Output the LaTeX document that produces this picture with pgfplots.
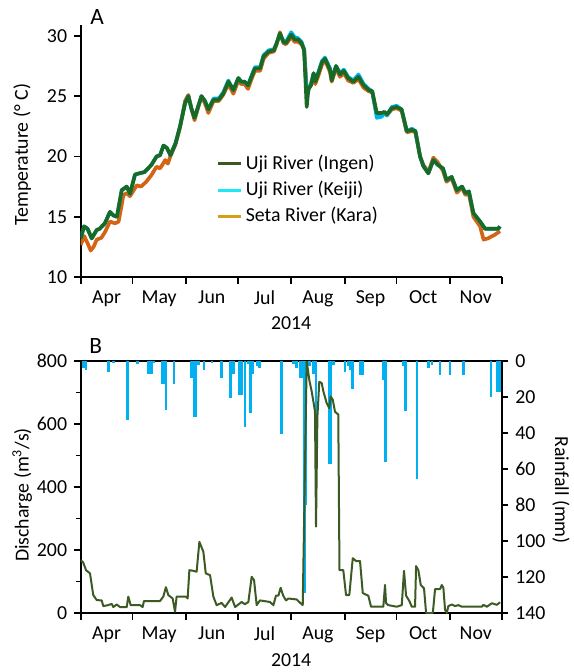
\documentclass[border=0pt]{standalone}
\usepackage{fontspec}
\setmainfont{Carlito}
\usepackage{pgfplots}
\pgfplotsset{compat=1.18}

\definecolor{ingen}{RGB}{24,106,36}
\definecolor{keiji}{RGB}{0,180,240}
\definecolor{kara}{RGB}{212,100,20}
\definecolor{ingenleg}{RGB}{58,88,35}
\definecolor{keijileg}{RGB}{30,232,245}
\definecolor{karaleg}{RGB}{212,160,23}
\definecolor{rain}{RGB}{0,176,240}
\definecolor{flow}{RGB}{60,90,35}

\begin{document}
\fontsize{11.9pt}{14pt}\selectfont
\begin{tikzpicture}
\useasboundingbox (0,0) rectangle (343.8pt,-403.2pt);
\pgfplotsset{
  common/.style={
    scale only axis, width=252.6pt, height=151.2pt,
    xmin=0, xmax=244,
    xtick={0,30,61,91,122,153,183,214,244},
    xticklabels={Apr,May,Jun,Jul,Aug,Sep,Oct,Nov},
    x tick label as interval,
    tick align=outside, major tick length=4pt, minor tick length=3pt,
    tick style={black, line width=1.1pt},
    axis line style={line width=1.1pt},
    /pgf/number format/assume math mode=true,
    tick label style={font=\fontsize{11.9pt}{14pt}\selectfont},
    label style={font=\fontsize{11.9pt}{14pt}\selectfont},
  }
}

% ---------------- panel A: temperature
\begin{axis}[common,
  at={(48.4pt,-166.2pt)}, anchor=south west,
  ymin=10, ymax=30.9, ytick={10,15,20,25,30},
  axis x line*=bottom, axis y line*=left,
  xlabel={2014},
  xlabel style={at={(axis description cs:0.5,-0.183)}, anchor=center},
  ylabel={Temperature (° C)},
  ylabel style={at={(axis description cs:-0.139,0.485)}, anchor=center},
  legend image code/.code={\draw[#1] (0pt,0pt) -- (9.4pt,0pt); \path (0pt,0pt) -- (13.8pt,0pt);},
  legend style={draw=none, fill=none, at={(0.31,0.345)}, anchor=west,
    row sep=1.2pt, font=\fontsize{11.9pt}{14pt}\selectfont},
  legend cell align=left,
]
\addlegendimage{ingenleg, line width=1.8pt}
\addlegendentry{Uji River (Ingen)}
\addlegendimage{keijileg, line width=1.8pt}
\addlegendentry{Uji River (Keiji)}
\addlegendimage{karaleg, line width=1.8pt}
\addlegendentry{Seta River (Kara)}

% Seta River (Kara)
\addplot[forget plot, kara, line width=2.2pt, line join=round] coordinates {
(0,12.65) (2,13.4) (4,12.8) (5.8,12.2) (7.5,12.5) (9.3,13.1) (12,13.25)
(14,13.7) (17,14.6) (20,14.45) (22,14.6) (24.8,16.8) (26.7,16.95) (28.6,16.7)
(32.5,17.6) (35,17.5) (38,17.9) (41,18.45) (44,19.15) (46,19.0) (49,19.7)
(50.5,19.4) (52,20.0) (55,21.0) (57.6,22.4) (60.5,24.6) (62.4,25.1) (64.3,23.9)
(66,23.0) (68,24.0) (70,25.0) (72,24.4) (74,23.6) (77,24.6) (80,24.6)
(82.6,25.1) (85.6,26.0) (88.5,25.2) (91.4,26.3) (93,26.0) (95,26.0) (97,25.6)
(99,26.4) (101,27.1) (104,27.1) (106,28.1) (109,28.6) (112,28.7) (113.6,29.3)
(115.5,30.3) (117.5,29.4) (119,29.3) (122,29.9) (124,29.5) (126,29.5) (128,29.3)
(129.5,28.9) (131,25.7) (133,25.8) (135,26.5) (136,26.0) (138,26.8) (139.8,27.6)
(141.6,28.0) (144.5,27.0) (145.5,26.2) (148,27.3) (150.3,26.6) (152.5,26.9)
(155,26.3) (158,26.1) (161,26.4) (164,25.7) (167,25.4) (169,25.3) (171.6,23.5)
(174.5,23.5) (176,23.6) (177.5,23.4) (180.3,23.9) (183,24.0) (186,23.8)
(189,22.0) (192,22.1) (194,22.0) (196.7,20.0) (198.6,19.3) (201.5,18.7)
(204.4,19.9) (207,19.5) (210,18.8) (212,17.9) (215,18.2) (218,17.0) (221,17.4)
(223,16.8) (225,16.9) (227.6,15.0) (231.5,14.2) (233.5,13.1) (236,13.2)
(240,13.5) (243,13.8)
};
% Uji River (Keiji)
\addplot[forget plot, keiji, line width=2.2pt, line join=round] coordinates {
(0,13.2) (2,14.2) (4,14.0) (6.4,13.2) (9.3,13.9) (11,14.0) (14,14.45)
(17,15.4) (19,15.1) (21,15.0) (23.8,17.2) (26.7,17.5) (28.6,16.9) (31.5,18.5)
(34,18.6) (37,18.7) (41,19.3) (44,20.0) (46,20.1) (48,20.9) (50,20.7)
(52,20.1) (55,21.1) (57.6,22.5) (60.5,24.4) (62.4,25.0) (64.3,23.9) (66,23.2)
(68,24.1) (70,25.0) (72,24.6) (74,23.9) (77,24.8) (80,24.8) (82.6,25.3)
(85.6,26.3) (88.5,25.5) (91.4,26.5) (93,26.2) (95,26.2) (97,25.9) (99,26.7)
(101,27.4) (104,27.4) (106,28.4) (109,28.8) (112,28.9) (113.6,29.4) (115.5,30.1)
(117.5,29.6) (119,29.5) (122,30.3) (124,29.9) (126,29.8) (128,29.5) (129.5,28.9)
(131,25.2) (133,25.8) (135,26.9) (136,26.3) (138,27.1) (139.8,27.9) (141.6,28.2)
(144.5,27.3) (145.5,26.4) (148,27.5) (150.3,26.9) (152.5,27.2) (155,26.6)
(158,26.3) (161,26.8) (164,26.0) (167,25.6) (169,25.4) (171.6,23.2) (174.5,23.3)
(176,23.6) (177.5,23.4) (180.3,24.1) (183,24.2) (186,23.9) (189,22.1) (192,22.3)
(194,22.1) (196.7,20.0) (198.6,19.2) (201.5,18.6) (204.4,19.7) (207,19.3)
(210,19.0) (212,18.05) (215,18.3) (218,17.2) (221,17.5) (223,16.95) (225,17.1)
(227.6,15.3) (231.5,14.6) (234.4,14.0) (242,14.0) (243,14.2)
};
% Uji River (Ingen)
\addplot[forget plot, ingen, line width=2.2pt, line join=round] coordinates {
(0,13.2) (2,14.2) (4,14.0) (6.4,13.2) (9.3,13.9) (11,14.0) (14,14.45)
(17,15.4) (19,15.1) (21,15.0) (23.8,17.2) (26.7,17.5) (28.6,16.9) (31.5,18.5)
(34,18.6) (37,18.7) (41,19.3) (44,20.0) (46,20.1) (48,20.9) (50,20.7)
(52,20.1) (55,21.1) (57.6,22.5) (60.5,24.4) (62.4,25.0) (64.3,23.9) (66,23.2)
(68,24.1) (70,25.0) (72,24.6) (74,23.9) (77,24.7) (80,24.7) (82.6,25.2)
(85.6,26.2) (88.5,25.5) (91.4,26.5) (93,26.2) (95,26.2) (97,25.9) (99,26.6)
(101,27.3) (104,27.3) (106,28.3) (109,28.7) (112,28.8) (113.6,29.4) (115.5,30.2)
(117.5,29.5) (119,29.4) (122,30.1) (124,29.7) (126,29.7) (128,29.4) (129.5,28.8)
(131,24.1) (132,25.6) (133.5,25.9) (135,26.9) (136,26.2) (138,27.0) (139.8,27.8)
(141.6,28.1) (144.5,27.2) (145.5,26.3) (148,27.5) (150.3,26.8) (152.5,27.1)
(155,26.5) (158,26.2) (161,26.6) (164,25.9) (167,25.5) (169,25.4) (171.6,23.6)
(174.5,23.6) (176,23.7) (177.5,23.5) (180.3,24.0) (183,24.1) (186,23.9)
(189,22.1) (192,22.2) (194,22.1) (196.7,20.0) (198.6,19.2) (201.5,18.6)
(204.4,19.7) (207,19.3) (210,19.0) (212,18.05) (215,18.3) (218,17.2) (221,17.5)
(223,16.95) (225,17.1) (227.6,15.3) (231.5,14.6) (234.4,14.0) (242,14.0)
(243,14.2)
};
\end{axis}

% ---------------- panel B: rainfall (right, reversed)
\begin{axis}[common,
  at={(48.4pt,-367.8pt)}, anchor=south west,
  ymin=0, ymax=140, y dir=reverse, ytick={0,20,...,140},
  axis y line*=right, axis x line*=top,
  xtick=\empty, xticklabels={}, x tick label as interval=false,
  ylabel={Rainfall (mm)},
  ylabel style={at={(axis description cs:1.141,0.488)}, anchor=center, rotate=180},
]
\addplot[ycomb, rain, line width=1.5pt] coordinates {
(1.5,4) (3.1,5) (16,6) (18.9,1) (27.2,33) (32.8,1.5) (39.2,7) (41.1,7)
(42.5,1) (47,13) (48.3,13) (49.4,27) (54.1,13) (64.3,9.6) (65.7,31) (66.8,31)
(68.2,2) (71.5,5) (76,1) (81.7,9.6) (86.9,20.7) (88.5,7) (92,19) (93.3,19)
(95.2,36.5) (97.2,1.5) (98.5,28.7) (99.7,7) (102.4,3) (103.6,4) (116.5,40.6)
(123.3,1.5) (125.2,4) (127.5,9.6) (129,9.6) (129.8,129) (130.6,80) (132.5,3)
(134.9,7) (136.4,31) (144,57) (145.1,57) (146.4,2) (153.2,6) (155.1,3)
(156.1,5) (157.5,15.7) (162.3,7.8) (163.5,7.8) (175.4,10.5) (176.6,56)
(187,3) (188.4,28) (194.8,65.6) (201.5,4) (203.5,2) (208.3,7.8) (214.1,7.8)
(221.8,7.8) (237.7,19.8) (241.5,17) (243,17)
};
\end{axis}

% ---------------- panel B: discharge (left)
\begin{axis}[common,
  at={(48.4pt,-367.8pt)}, anchor=south west,
  ymin=0, ymax=800, ytick={0,200,...,800}, minor ytick={100,300,500,700},
  axis y line*=left, axis x line*=bottom,
  xlabel={2014},
  xlabel style={at={(axis description cs:0.5,-0.187)}, anchor=center},
  ylabel={Discharge (m\textsuperscript{3}/s)},
  ylabel style={at={(axis description cs:-0.139,0.468)}, anchor=center},
]
\addplot[flow, line width=1.2pt, line join=round] coordinates {
(0,168) (1.5,160) (3.1,136) (5.4,126) (7.3,57) (9.3,41) (12.2,40) (13.1,22)
(16,25) (18,29) (18.9,19) (20.9,27) (22.8,19) (26.7,19) (27.6,52) (29,25)
(34.4,25) (35.9,19) (36.7,38) (46,38) (47.9,52) (49.4,82) (50.8,57) (53.3,46)
(54.7,4) (55.6,52) (61,52) (62,46) (63,136) (65.3,134) (67.2,131) (68.8,226)
(70.1,208) (71.1,195) (72.5,126) (75,120) (76.9,52) (78.8,25) (81.7,32)
(83.7,19) (87.5,49) (89.5,19) (93.3,35) (95.2,28) (97.2,35) (99.1,115)
(100.5,104) (102,25) (103.9,40) (109.7,35) (111.7,25) (113.2,55) (114.6,55)
(115.9,80) (117.4,55) (119,40) (120.4,46) (125.2,43) (126.7,35) (128.7,25)
(131,800) (132.5,740) (133.9,703) (134.9,671) (135.8,640) (136.4,274)
(137.2,623) (138.3,734) (139.7,730) (140.6,705) (142.6,666) (144.1,650)
(144.9,687) (146.1,677) (147.4,639) (149.3,630) (150,136) (152.2,136)
(153.8,57) (155.7,57) (157.7,174) (159.6,165) (161.9,165) (163.5,63)
(166.7,55) (168.3,20) (175.4,20) (176.4,89) (177,31) (178.3,25) (183.2,20)
(186.1,25) (187.4,134) (188.6,55) (190.5,38) (191.9,20) (193.8,20) (194.4,149)
(195.7,136) (197.1,89) (199,78) (200.2,0) (204.1,0) (205.4,76) (208.3,76)
(209.3,89) (210.2,80) (211.2,10) (212.2,0) (213.1,22) (215.1,27) (217,22)
(218.9,25) (220.9,20) (232.5,20) (233.4,26) (235.4,20) (238.3,31) (241.2,26)
(243.1,34)
};
\end{axis}

\node[font=\fontsize{14pt}{16pt}\selectfont] at (58.2pt,-10.5pt) {A};
\node[font=\fontsize{14pt}{16pt}\selectfont] at (57.5pt,-207.5pt) {B};
\end{tikzpicture}
\end{document}
